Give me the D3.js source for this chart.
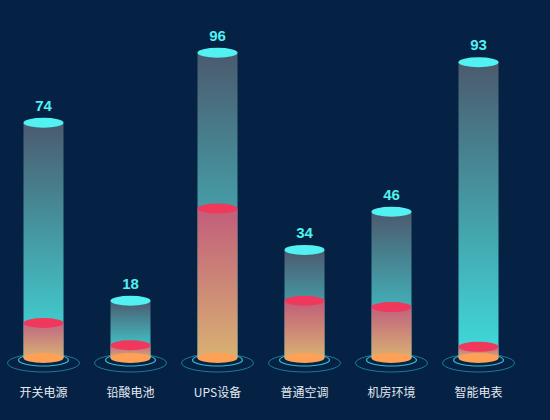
<!DOCTYPE html>
<html>
<head>
<meta charset="utf-8">
<script src="https://cdn.jsdelivr.net/npm/d3@7"></script>
<style>
html,body{margin:0;padding:0;background:#052244;}
svg{display:block;}
</style>
</head>
<body>
<script>
const categories = ["开关电源","铅酸电池","UPS设备","普通空调","机房环境","智能电表"];
const totalValues = [74, 18, 96, 34, 46, 93];
const innerValues = [11, 4, 47, 18, 16, 3.5];

const W = 550, H = 420;
const svg = d3.select("body").append("svg").attr("width", W).attr("height", H);
svg.append("rect").attr("width", W).attr("height", H).attr("fill", "#052244");

const x = d3.scaleBand().domain(categories).range([0, 522]).paddingInner(0).paddingOuter(0);
const y = d3.scaleLinear().domain([0, 100]).range([358, 40]);

const defs = svg.append("defs");
const gOuter = defs.append("linearGradient").attr("id","gOuter").attr("x1",0).attr("y1",0).attr("x2",0).attr("y2",1);
gOuter.append("stop").attr("offset","0%").attr("stop-color","#4b5a6e");
gOuter.append("stop").attr("offset","100%").attr("stop-color","#3fdcdc");
const gInner = defs.append("linearGradient").attr("id","gInner").attr("x1",0).attr("y1",0).attr("x2",0).attr("y2",1);
gInner.append("stop").attr("offset","0%").attr("stop-color","#e84a6c").attr("stop-opacity",0.76);
gInner.append("stop").attr("offset","100%").attr("stop-color","#ffa658").attr("stop-opacity",0.8);

const barW = 40, ry = 5;
const cx = d => x(d) + x.bandwidth() / 2;
const data = categories.map((c, i) => ({c, v: totalValues[i], r: innerValues[i]}));

const g = svg.append("g");

// rings
g.selectAll(".ringOuter").data(data).join("ellipse")
  .attr("cx", d => cx(d.c)).attr("cy", y(0) + 5)
  .attr("rx", 36).attr("ry", 9)
  .attr("fill", "none").attr("stroke", "#2bb6d0").attr("stroke-opacity", 0.6).attr("stroke-width", 1);
g.selectAll(".ringInner").data(data).join("ellipse")
  .attr("cx", d => cx(d.c)).attr("cy", y(0) + 2)
  .attr("rx", 25).attr("ry", 6)
  .attr("fill", "none").attr("stroke", "#3ccfe0").attr("stroke-opacity", 0.9).attr("stroke-width", 1.2);

// outer bars
g.selectAll(".outer").data(data).join("rect")
  .attr("x", d => cx(d.c) - barW/2).attr("y", d => y(d.v))
  .attr("width", barW).attr("height", d => y(0) - y(d.v))
  .attr("fill", "url(#gOuter)");

// inner bars
g.selectAll(".inner").data(data).join("rect")
  .attr("x", d => cx(d.c) - barW/2).attr("y", d => y(d.r))
  .attr("width", barW).attr("height", d => y(0) - y(d.r))
  .attr("fill", "url(#gInner)");

// bottom ellipse
g.selectAll(".bottom").data(data).join("ellipse")
  .attr("cx", d => cx(d.c)).attr("cy", y(0))
  .attr("rx", barW/2).attr("ry", ry)
  .attr("fill", "#ffa057");

// inner top ellipse
g.selectAll(".innerTop").data(data).join("ellipse")
  .attr("cx", d => cx(d.c)).attr("cy", d => y(d.r))
  .attr("rx", barW/2).attr("ry", ry)
  .attr("fill", "#f0385c");

// outer top ellipse
g.selectAll(".outerTop").data(data).join("ellipse")
  .attr("cx", d => cx(d.c)).attr("cy", d => y(d.v))
  .attr("rx", barW/2).attr("ry", ry)
  .attr("fill", "#52f2f2");

// value labels
g.selectAll(".val").data(data).join("text")
  .attr("x", d => cx(d.c)).attr("y", d => y(d.v) - 12)
  .attr("text-anchor", "middle")
  .attr("font-family", "'Liberation Sans', Arial, sans-serif")
  .attr("font-weight", "bold").attr("font-size", 15)
  .attr("fill", "#52f0f0")
  .text(d => d.v);

// x axis labels
const xAxis = d3.axisBottom(x).tickSize(0).tickPadding(0);
const ax = svg.append("g").attr("transform", `translate(0, ${y(0) + 30})`).call(xAxis);
ax.select(".domain").remove();
ax.selectAll("text")
  .attr("font-family", "'Noto Sans CJK SC', 'Noto Sans', sans-serif")
  .attr("font-size", 12).attr("fill", "#e3e9f0");
</script>
</body>
</html>
